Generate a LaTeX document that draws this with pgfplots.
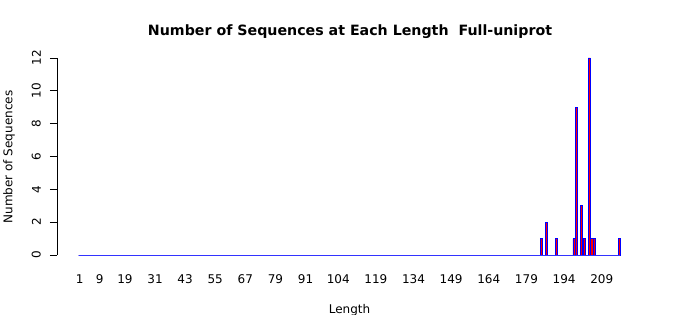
\documentclass[border=0pt]{standalone}
\usepackage{fontspec}
\setmainfont{DejaVu Sans}
\usepackage{pgfplots}
\pgfplotsset{compat=1.18}
\begin{document}
\begin{tikzpicture}
\path[use as bounding box] (0,0) rectangle (700pt,315pt);
\begin{axis}[
  at={(57pt,52.1pt)}, anchor=south west,
  scale only axis, width=585pt, height=212.8pt,
  xmin=-8.05, xmax=225.05, ymin=-0.48, ymax=12.48,
  axis line style={draw=none},
  /pgf/number format/assume math mode=true,
  tick label style={font=\fontsize{12}{14}\selectfont},
  xtick={1,9,19,31,43,55,67,79,91,104,119,134,149,164,179,194,209},
  xtick style={draw=none},
  xticklabel style={anchor=base, inner sep=0pt, yshift=-14pt},
  ytick={0,2,4,6,8,10,12},
  ytick pos=left, tick align=outside, major tick length=7pt,
  ytick style={black, line width=0.8pt},
  yticklabel style={rotate=90, anchor=south, inner sep=0pt, yshift=9pt},
  title={\bfseries Number of Sequences at Each Length\ \ Full-uniprot},
  title style={at={(axis description cs:0.5009,1.057)}, anchor=center, font=\fontsize{14.2}{16}\selectfont},
  xlabel={Length},
  xlabel style={at={(axis description cs:0.5,-0.221)}, anchor=center, font=\fontsize{12}{14}\selectfont},
  ylabel={Number of Sequences},
  ylabel style={at={(axis description cs:-0.082,0.4977)}, anchor=center, rotate=0, font=\fontsize{12}{14}\selectfont},
]
\draw[black, line width=0.8pt] (axis cs:-8.05,0) -- (axis cs:-8.05,12);
\addplot[ybar, bar width=0.9, fill=red, draw=blue, line width=0.6pt] coordinates {
(1,0)(2,0)(3,0)(4,0)(5,0)(6,0)(7,0)(8,0)(9,0)(10,0)
(11,0)(12,0)(13,0)(14,0)(15,0)(16,0)(17,0)(18,0)(19,0)(20,0)
(21,0)(22,0)(23,0)(24,0)(25,0)(26,0)(27,0)(28,0)(29,0)(30,0)
(31,0)(32,0)(33,0)(34,0)(35,0)(36,0)(37,0)(38,0)(39,0)(40,0)
(41,0)(42,0)(43,0)(44,0)(45,0)(46,0)(47,0)(48,0)(49,0)(50,0)
(51,0)(52,0)(53,0)(54,0)(55,0)(56,0)(57,0)(58,0)(59,0)(60,0)
(61,0)(62,0)(63,0)(64,0)(65,0)(66,0)(67,0)(68,0)(69,0)(70,0)
(71,0)(72,0)(73,0)(74,0)(75,0)(76,0)(77,0)(78,0)(79,0)(80,0)
(81,0)(82,0)(83,0)(84,0)(85,0)(86,0)(87,0)(88,0)(89,0)(90,0)
(91,0)(92,0)(93,0)(94,0)(95,0)(96,0)(97,0)(98,0)(99,0)(100,0)
(101,0)(102,0)(103,0)(104,0)(105,0)(106,0)(107,0)(108,0)(109,0)(110,0)
(111,0)(112,0)(113,0)(114,0)(115,0)(116,0)(117,0)(118,0)(119,0)(120,0)
(121,0)(122,0)(123,0)(124,0)(125,0)(126,0)(127,0)(128,0)(129,0)(130,0)
(131,0)(132,0)(133,0)(134,0)(135,0)(136,0)(137,0)(138,0)(139,0)(140,0)
(141,0)(142,0)(143,0)(144,0)(145,0)(146,0)(147,0)(148,0)(149,0)(150,0)
(151,0)(152,0)(153,0)(154,0)(155,0)(156,0)(157,0)(158,0)(159,0)(160,0)
(161,0)(162,0)(163,0)(164,0)(165,0)(166,0)(167,0)(168,0)(169,0)(170,0)
(171,0)(172,0)(173,0)(174,0)(175,0)(176,0)(177,0)(178,0)(179,0)(180,0)
(181,0)(182,0)(183,0)(184,0)(185,1)(186,0)(187,2)(188,0)(189,0)(190,0)
(191,1)(192,0)(193,0)(194,0)(195,0)(196,0)(197,0)(198,1)(199,9)(200,0)
(201,3)(202,1)(203,0)(204,12)(205,1)(206,1)(207,0)(208,0)(209,0)(210,0)
(211,0)(212,0)(213,0)(214,0)(215,0)(216,1)
};
\addplot[blue!80!white, line width=0.9pt, forget plot] coordinates {(0.55,0) (216.45,0)};
\end{axis}
\end{tikzpicture}
\end{document}
